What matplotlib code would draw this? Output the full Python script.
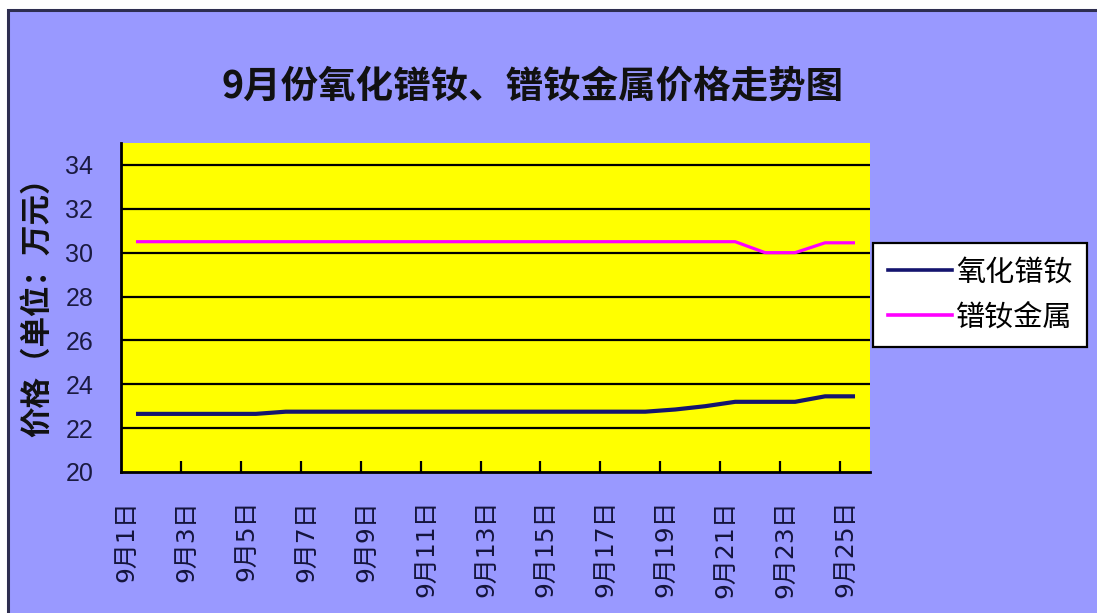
import matplotlib
matplotlib.use("Agg")
import matplotlib.pyplot as plt
from matplotlib.patches import Rectangle
from matplotlib.lines import Line2D
import matplotlib.transforms as mtransforms

plt.rcParams['font.family'] = ['Noto Sans CJK SC', 'DejaVu Sans']

# ---------------- data ----------------
days = list(range(1, 26))
label_days = list(range(1, 26, 2))
label_texts = [f"9月{d}日" for d in label_days]

oxide_prices = [22.65, 22.65, 22.65, 22.65, 22.65,
                22.75, 22.75, 22.75, 22.75, 22.75,
                22.75, 22.75, 22.75, 22.75, 22.75,
                22.75, 22.75, 22.75, 22.85, 23.0,
                23.2, 23.2, 23.2, 23.45, 23.45]
metal_prices = [30.5] * 21 + [30.0, 30.0, 30.45, 30.45]

series_names = ["氧化镨钕", "镨钕金属"]
series_colors = ["#14146e", "#ff00ff"]

title_text = "9月份氧化镨钕、镨钕金属价格走势图"
ylabel_text = "价格（单位：万元）"
y_ticks = [20, 22, 24, 26, 28, 30, 32, 34]

# ---------------- figure ----------------
W, H, DPI = 1097, 613, 100
fig = plt.figure(figsize=(W / DPI, H / DPI), dpi=DPI, facecolor="white")

# chart area background (extends beyond right/bottom edges)
bg = Rectangle((8 / W, -0.05), 1.2, (H - 10) / H + 0.05, transform=fig.transFigure,
               facecolor="#9999ff", edgecolor="#2e2e50", linewidth=2.2, zorder=-10)
fig.patches.append(bg)

ax = fig.add_axes([121 / W, 141 / H, 749 / W, 329 / H])
ax.set_zorder(1)
ax.set_facecolor("#ffff00")

ax.plot(days, oxide_prices, color=series_colors[0], linewidth=3.0,
        solid_capstyle="butt", solid_joinstyle="miter", zorder=3)
ax.plot(days, metal_prices, color=series_colors[1], linewidth=2.3,
        solid_capstyle="butt", zorder=3)

ax.set_xlim(0.5, 25.5)
ax.set_ylim(20, 35)

# y axis
ax.set_yticks(y_ticks)
ax.set_yticklabels([str(v) for v in y_ticks], fontsize=18,
                   family=["Liberation Sans", "DejaVu Sans"], color="#1a1a40")
ax.tick_params(axis="y", length=0, pad=20)
for v in y_ticks[1:]:
    ax.axhline(v, color="black", linewidth=1.6, zorder=2)

# x axis: labels at odd days, small inward ticks between categories
ax.set_xticks(label_days)
ax.set_xticklabels(label_texts, rotation=90, fontsize=18, color="#14143c",
                   family=["DejaVu Sans", "Noto Sans CJK SC"], va="top", ha="center")
ax.tick_params(axis="x", length=0, pad=20)
ax.set_xticks([d + 1.5 for d in label_days[:-1]], minor=True)
ax.tick_params(axis="x", which="minor", direction="in", length=8, width=1.6,
               color="black")
offset = mtransforms.ScaledTranslation(-7 / 72, 0, fig.dpi_scale_trans)
for lab in ax.get_xticklabels():
    lab.set_transform(lab.get_transform() + offset)

for s in ["top", "right"]:
    ax.spines[s].set_visible(False)
for s in ["left", "bottom"]:
    ax.spines[s].set_linewidth(2.0)
    ax.spines[s].set_color("black")

# title and axis label
fig.text(533 / W, 1 - 86 / H, title_text, ha="center", va="center",
         fontsize=27, fontweight="bold", color="#111111")
fig.text(37 / W, 1 - 300 / H, ylabel_text, ha="center", va="center",
         rotation=90, fontsize=22, fontweight="bold", color="#111111")

# legend
handles = [Line2D([0], [0], color=c, linewidth=2.6) for c in series_colors]
leg = fig.legend(handles, series_names, loc="upper left",
                 bbox_to_anchor=(873 / W, 1 - 243 / H), fontsize=21,
                 frameon=True, fancybox=False, handlelength=2.2,
                 handletextpad=0.15, labelspacing=0.5, borderpad=0.5,
                 borderaxespad=0)
leg.set_zorder(5)
leg.get_frame().set_edgecolor("black")
leg.get_frame().set_linewidth(1.6)
leg.get_frame().set_facecolor("white")
leg.get_frame().set_alpha(1)

fig.savefig("out.png", dpi=DPI, facecolor=fig.get_facecolor())
